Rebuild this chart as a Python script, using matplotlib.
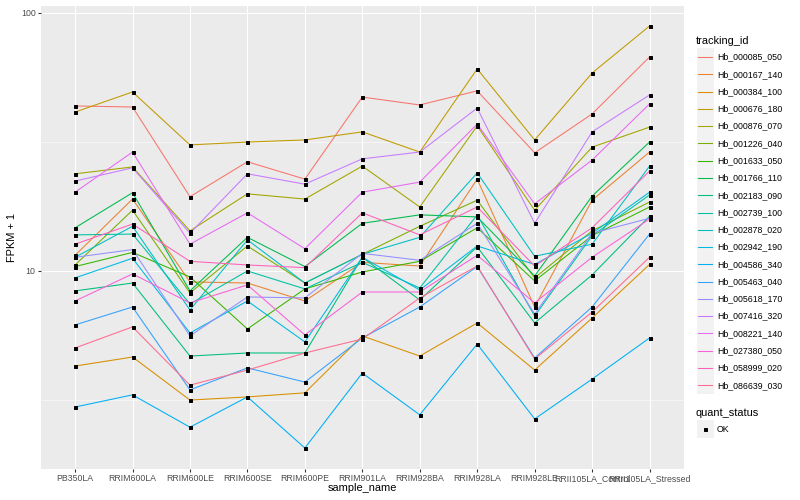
import matplotlib
matplotlib.use("Agg")
import matplotlib.pyplot as plt
from matplotlib.ticker import FixedLocator, NullFormatter
from matplotlib.patches import Rectangle
from matplotlib.lines import Line2D

plt.rcParams['font.family'] = ['Liberation Sans', 'DejaVu Sans']

# samples on the x axis
samples = ["PB350LA", "RRIM600LA", "RRIM600LE", "RRIM600SE", "RRIM600PE",
           "RRIM901LA", "RRIM928BA", "RRIM928LA", "RRIM928LE",
           "RRII105LA_Control", "RRII105LA_Stressed"]

# FPKM + 1 per gene
hb_000085_050 = [43.6, 43.2, 19.4, 26.5, 22.7, 47.2, 44.0, 49.9, 28.7, 40.6, 67.5]
hb_000167_140 = [11.5, 19.0, 9.07, 8.98, 7.65, 10.8, 10.45, 22.7, 7.25, 18.8, 28.9]
hb_000384_100 = [4.28, 4.64, 3.16, 3.25, 3.37, 5.60, 4.68, 6.29, 4.13, 6.57, 10.6]
hb_000676_180 = [41.3, 49.4, 30.8, 31.6, 32.2, 34.6, 28.9, 60.7, 32.2, 58.5, 89.0]
hb_000876_070 = [23.8, 25.3, 14.3, 19.9, 19.0, 25.5, 17.7, 36.5, 17.2, 30.2, 36.1]
hb_001226_040 = [10.55, 17.2, 8.22, 12.5, 8.98, 11.6, 14.9, 18.8, 9.40, 14.3, 18.5]
hb_001633_050 = [10.4, 11.8, 9.48, 5.96, 8.52, 9.91, 10.9, 14.7, 9.15, 13.7, 17.7]
hb_001766_110 = [14.7, 20.1, 8.37, 13.5, 10.4, 15.3, 16.5, 16.2, 9.56, 19.5, 31.6]
hb_002183_090 = [8.37, 8.98, 4.68, 4.81, 4.81, 11.3, 7.72, 12.4, 6.29, 9.65, 16.3]
hb_002739_100 = [13.8, 13.9, 7.45, 10.0, 8.52, 10.8, 8.59, 16.5, 6.69, 13.7, 19.7]
hb_002878_020 = [11.3, 14.9, 7.06, 13.2, 8.98, 11.6, 13.5, 24.0, 11.4, 12.7, 25.5]
hb_002942_190 = [9.40, 11.2, 5.75, 7.65, 5.31, 11.3, 8.44, 12.5, 10.6, 14.0, 20.2]
hb_004586_340 = [2.97, 3.31, 2.48, 3.25, 2.06, 4.02, 2.77, 5.21, 2.67, 3.81, 5.50]
hb_005463_040 = [6.18, 7.25, 3.46, 4.21, 3.71, 5.50, 7.25, 10.4, 4.60, 7.25, 13.9]
hb_005618_170 = [11.3, 12.1, 5.60, 7.93, 7.86, 11.7, 11.0, 15.3, 6.81, 14.0, 16.0]
hb_007416_320 = [22.3, 25.1, 14.0, 23.8, 21.7, 27.2, 28.9, 42.8, 15.3, 34.6, 48.1]
hb_008221_140 = [20.2, 28.9, 12.7, 16.8, 12.2, 20.2, 22.1, 37.1, 18.2, 26.9, 44.4]
hb_027380_050 = [7.65, 9.74, 7.52, 8.83, 5.65, 8.29, 8.29, 11.5, 7.52, 11.3, 15.9]
hb_058999_020 = [12.7, 15.2, 10.9, 10.55, 10.3, 16.8, 13.8, 17.7, 10.45, 14.7, 24.4]
hb_086639_030 = [5.03, 6.07, 3.61, 4.13, 4.81, 5.45, 7.86, 10.45, 4.56, 6.93, 11.3]

tracking_ids = ["Hb_000085_050", "Hb_000167_140", "Hb_000384_100", "Hb_000676_180",
                "Hb_000876_070", "Hb_001226_040", "Hb_001633_050", "Hb_001766_110",
                "Hb_002183_090", "Hb_002739_100", "Hb_002878_020", "Hb_002942_190",
                "Hb_004586_340", "Hb_005463_040", "Hb_005618_170", "Hb_007416_320",
                "Hb_008221_140", "Hb_027380_050", "Hb_058999_020", "Hb_086639_030"]
series = [hb_000085_050, hb_000167_140, hb_000384_100, hb_000676_180, hb_000876_070,
          hb_001226_040, hb_001633_050, hb_001766_110, hb_002183_090, hb_002739_100,
          hb_002878_020, hb_002942_190, hb_004586_340, hb_005463_040, hb_005618_170,
          hb_007416_320, hb_008221_140, hb_027380_050, hb_058999_020, hb_086639_030]

# ggplot default hue palette for 20 levels
colors = ["#F8766D", "#EA8331", "#D89000", "#C09B00", "#A3A500", "#7CAE00", "#39B600",
          "#00BB4E", "#00BF7D", "#00C1A3", "#00BFC4", "#00BAE0", "#00B0F6", "#35A2FF",
          "#9590FF", "#C77CFF", "#E76BF3", "#FA62DB", "#FF62BC", "#FF6C91"]

W, H = 800, 500
fig = plt.figure(figsize=(W / 72, H / 72), dpi=72)
ax = fig.add_axes([40.6 / W, 31 / H, 643.4 / W, 463 / H])
ax.set_facecolor("#EBEBEB")
for s in ax.spines.values():
    s.set_visible(False)

for vals, c in zip(series, colors):
    ax.plot(samples, vals, color=c, lw=1.07, zorder=2)
for vals in series:
    ax.plot(samples, vals, 's', color='black', ms=3, ls='none', zorder=3)

ax.set_yscale('log')
ax.set_ylim(1.708, 106.4)
ax.set_xlim(-0.6, len(samples) - 0.4)
ax.yaxis.set_major_locator(FixedLocator([10, 100]))
ax.yaxis.set_minor_locator(FixedLocator([10 ** 0.5, 10 ** 1.5]))
ax.yaxis.set_minor_formatter(NullFormatter())
ax.set_yticklabels(["10", "100"])
ax.grid(which='major', color='white', lw=1.07, zorder=0)
ax.grid(which='minor', axis='y', color='white', lw=0.53, zorder=0)
ax.set_axisbelow(True)
ax.tick_params(which='major', color='#333333', length=2.75, width=1.07,
               labelcolor='#4D4D4D', labelsize=8.8, pad=2.2)
ax.tick_params(which='minor', length=0)

fig.text(362 / W, 1 - 488 / H, "sample_name", ha='center', va='center', fontsize=11)
fig.text(12 / W, 1 - 237.5 / H, "FPKM + 1", ha='center', va='center',
         rotation=90, fontsize=11)

# legend drawn ggplot style, in pixel coordinates
lax = fig.add_axes([0, 0, 1, 1])
lax.set_xlim(0, W)
lax.set_ylim(H, 0)
lax.axis('off')
kx, kw = 696.5, 17.3
lax.text(696, 40.7, "tracking_id", ha='left', va='center', fontsize=11)
for i, (name, c) in enumerate(zip(tracking_ids, colors)):
    cy = 57 + i * 17.28
    lax.add_patch(Rectangle((kx, cy - kw / 2), kw, kw, facecolor='#F2F2F2',
                            edgecolor='none'))
    lax.add_line(Line2D([kx + 1.7, kx + kw - 1.7], [cy, cy], color=c, lw=1.07))
    lax.text(717, cy, name, ha='left', va='center', fontsize=8.8)

lax.text(696, 412.7, "quant_status", ha='left', va='center', fontsize=11)
lax.add_patch(Rectangle((kx, 429 - kw / 2), kw, kw, facecolor='#F2F2F2', edgecolor='none'))
lax.plot([kx + kw / 2], [429], 's', color='black', ms=3)
lax.text(717, 429, "OK", ha='left', va='center', fontsize=8.8)

fig.savefig("out.png", dpi=72)
